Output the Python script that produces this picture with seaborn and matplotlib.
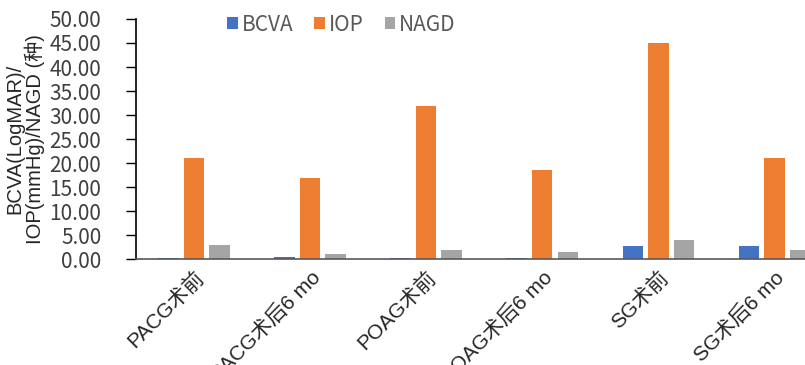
import numpy as np
import pandas as pd
import seaborn as sns
import matplotlib.pyplot as plt

# data
groups = ['PACG术前', 'PACG术后6 mo', 'POAG术前', 'POAG术后6 mo', 'SG术前', 'SG术后6 mo']
bcva = [0.2, 0.4, 0.2, 0.2, 2.8, 2.8]
iop = [21.0, 16.9, 31.8, 18.5, 45.0, 21.0]
nagd = [3.0, 1.0, 1.9, 1.4, 3.9, 1.9]
series = ['BCVA', 'IOP', 'NAGD']
colors = ['#4472C4', '#ED7D31', '#A5A5A5']

df = pd.DataFrame({'group': groups, 'BCVA': bcva, 'IOP': iop, 'NAGD': nagd})
df = df.melt(id_vars='group', var_name='series', value_name='value')

sns.set_style('white')
plt.rcParams['font.family'] = ['Liberation Sans', 'Noto Sans CJK SC', 'DejaVu Sans']

fig = plt.figure(figsize=(8.05, 3.65), dpi=100)
ax = fig.add_axes([0.169, 0.290, 0.865, 0.658])

sns.barplot(data=df, x='group', y='value', hue='series', hue_order=series,
            palette=colors, saturation=1, width=0.66, gap=0.2,
            linewidth=0, ax=ax)

ax.set_ylim(0, 50)
ax.set_yticks(np.arange(0, 51, 5))
ax.set_yticklabels([f'{v:.2f}' for v in np.arange(0, 51, 5)], fontsize=15,
                   color='#404040', family=['Noto Sans CJK SC'])
ax.tick_params(axis='y', direction='out', length=7, width=1, color='black', left=True, pad=18)
ax.tick_params(axis='x', length=0, pad=6)
plt.setp(ax.get_xticklabels(), rotation=45, ha='right', rotation_mode='anchor', fontsize=15)
ax.set_xlabel('')
ax.set_ylabel('BCVA(LogMAR)/\nIOP(mmHg)/NAGD (种)', fontsize=14.5, linespacing=1.0)
ax.yaxis.set_label_coords(-0.131, 0.5)

for s in ['top', 'right']:
    ax.spines[s].set_visible(False)
ax.spines['left'].set_color('black')
ax.spines['bottom'].set_color('#595959')
ax.spines['left'].set_linewidth(1.2)
ax.spines['bottom'].set_linewidth(1.2)

leg = ax.legend(loc='upper center', bbox_to_anchor=(0.295, 1.1), ncol=3, frameon=False,
                prop={'family': ['Noto Sans CJK SC'], 'size': 15},
                handlelength=0.5, handleheight=0.5, handletextpad=0.2,
                columnspacing=1.0)
for t in leg.get_texts():
    t.set_color('#595959')

fig.savefig('out.png', dpi=100)
